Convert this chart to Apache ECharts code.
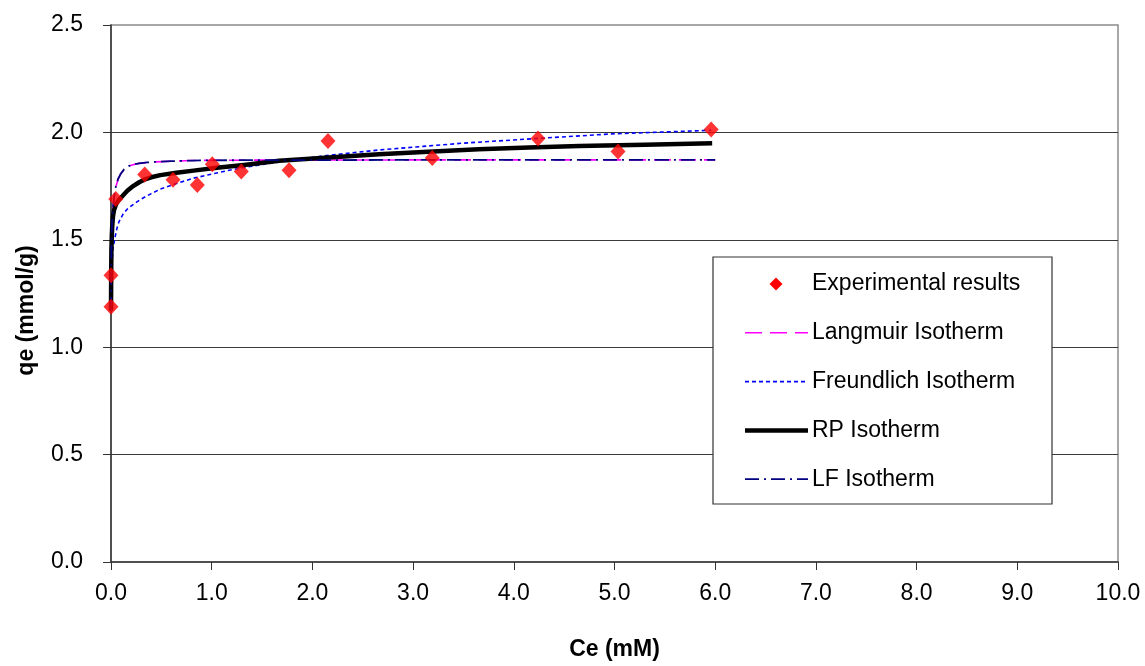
<!DOCTYPE html>
<html>
<head>
<meta charset="utf-8">
<script src="https://cdn.jsdelivr.net/npm/echarts@6/dist/echarts.min.js"></script>
<style>html,body{margin:0;padding:0;background:#fff}#c{width:1145px;height:666px}</style>
</head>
<body>
<div id="c"></div>
<script>
const xTicks = [0,1,2,3,4,5,6,7,8,9,10];
const yTicks = [0,0.5,1.0,1.5,2.0,2.5];
const experimental = [[0,1.188],[0,1.335],[0.047,1.69],[0.335,1.804],[0.616,1.779],[0.857,1.755],[1.006,1.852],[1.294,1.818],[1.768,1.824],[2.155,1.96],[3.19,1.881],[4.24,1.972],[5.035,1.911],[5.96,2.014]];
const langmuir = [[0,1.17],[0.002,1.36],[0.004,1.45],[0.01,1.57],[0.02,1.65],[0.035,1.71],[0.047,1.744],[0.07,1.782],[0.095,1.806],[0.13,1.828],[0.18,1.844],[0.23,1.851],[0.28,1.856],[0.36,1.860],[0.44,1.863],[0.6,1.866],[0.8,1.869],[1.0,1.870],[1.5,1.871],[2.0,1.871],[3.0,1.872],[4.0,1.872],[5.0,1.872],[6.0,1.872]];
const freundlich = [[0.001,1.22],[0.003,1.30],[0.006,1.35],[0.01,1.40],[0.02,1.46],[0.037,1.505],[0.06,1.555],[0.08,1.585],[0.12,1.62],[0.162,1.643],[0.23,1.668],[0.3,1.69],[0.4,1.715],[0.49,1.736],[0.65,1.762],[0.82,1.787],[1.0,1.806],[1.155,1.822],[1.4,1.843],[1.67,1.862],[2.1,1.89],[2.66,1.918],[3.1,1.935],[3.5,1.95],[4.24,1.972],[4.975,1.993],[5.96,2.01]];
const rp = [[0,1.17],[0.002,1.35],[0.004,1.45],[0.008,1.52],[0.012,1.56],[0.02,1.61],[0.03,1.638],[0.05,1.665],[0.07,1.68],[0.096,1.695],[0.13,1.712],[0.162,1.728],[0.22,1.75],[0.28,1.768],[0.33,1.780],[0.4,1.791],[0.49,1.801],[0.65,1.812],[0.82,1.822],[1.05,1.835],[1.32,1.848],[1.67,1.868],[2.2,1.884],[2.66,1.898],[3.15,1.910],[3.65,1.921],[4.15,1.930],[4.65,1.937],[5.3,1.943],[5.97,1.949]];
const lf = [[0,1.17],[0.002,1.37],[0.004,1.46],[0.01,1.575],[0.02,1.655],[0.035,1.712],[0.047,1.746],[0.07,1.783],[0.095,1.806],[0.13,1.828],[0.18,1.844],[0.23,1.851],[0.28,1.856],[0.36,1.860],[0.44,1.863],[0.6,1.866],[0.8,1.869],[1.0,1.870],[1.5,1.871],[2.0,1.871],[3.0,1.872],[4.0,1.872],[5.0,1.872],[6.0,1.872]];
const legendNames = ['Experimental results','Langmuir Isotherm','Freundlich Isotherm','RP Isotherm','LF Isotherm'];

const FONT = 'Arial, "Liberation Sans", sans-serif';
const styles = {
  'Langmuir Isotherm': {color:'#ff00ff', width:1.6, dash:[17,8]},
  'Freundlich Isotherm': {color:'#0000ff', width:1.6, dash:[4,3]},
  'RP Isotherm': {color:'#000000', width:4.5, dash:null},
  'LF Isotherm': {color:'#000080', width:1.8, dash:[14,5,2,5]}
};

// legend built as graphic
const LX = 713, LY = 257, LW = 339, LH = 247;
const rowY0 = 284, rowStep = 48.8;
const legendEls = [{type:'rect', shape:{x:LX, y:LY, width:LW, height:LH}, style:{fill:'#fff', stroke:'#333', lineWidth:1.2}, z:100}];
legendNames.forEach((n,i)=>{
  const cy = rowY0 + i*rowStep;
  if (i === 0) {
    legendEls.push({type:'polygon', shape:{points:[[776,cy-6.5],[782.5,cy],[776,cy+6.5],[769.5,cy]]}, style:{fill:'#ff0000'}, z:101});
  } else {
    const s = styles[n];
    legendEls.push({type:'line', shape:{x1:745, y1:cy, x2:808, y2:cy}, style:{stroke:s.color, lineWidth:s.width, lineDash:s.dash}, z:101});
  }
  legendEls.push({type:'text', x:812, y:cy, style:{text:n, font:'23px ' + FONT, fill:'#000', align:'left', verticalAlign:'middle'}, z:101});
});

function lineSeries(name, data, z){
  const s = styles[name];
  return {name, type:'line', data, symbol:'none', smooth:false,
    lineStyle:{color:s.color, width:s.width, type:s.dash || 'solid', join:'round', cap:'butt'}, itemStyle:{color:s.color}, z};
}

const chart = echarts.init(document.getElementById('c'), null, {renderer:'canvas'});
const option = {
  animation: false,
  backgroundColor: '#fff',
  grid: {left:111, right:27, top:25, bottom:101, show:true, borderColor:'#8c8c8c', borderWidth:1.5, backgroundColor:'transparent'},
  xAxis: {
    type:'value', min:xTicks[0], max:xTicks[xTicks.length-1], interval:1,
    name:'Ce (mM)', nameLocation:'middle', nameGap:76,
    nameTextStyle:{fontFamily:FONT, fontSize:23, fontWeight:'bold', color:'#000'},
    axisLine:{show:true, onZero:false, lineStyle:{color:'#333', width:1.5}},
    axisTick:{show:true, inside:false, length:8, lineStyle:{color:'#333'}},
    axisLabel:{margin:20, fontFamily:FONT, fontSize:23, color:'#000', formatter:v=>v.toFixed(1)},
    splitLine:{show:false}
  },
  yAxis: {
    type:'value', min:yTicks[0], max:yTicks[yTicks.length-1], interval:0.5,
    name:'qe (mmol/g)', nameLocation:'middle', nameGap:73,
    nameTextStyle:{fontFamily:FONT, fontSize:23, fontWeight:'bold', color:'#000', padding:[0,34,0,0]},
    axisLine:{show:true, onZero:false, lineStyle:{color:'#333', width:1.5}},
    axisTick:{show:true, inside:false, length:8, lineStyle:{color:'#333'}},
    axisLabel:{margin:28, fontFamily:FONT, fontSize:23, color:'#000', formatter:v=>v.toFixed(1)},
    splitLine:{show:true, showMinLine:false, showMaxLine:false, lineStyle:{color:'#3a3a3a', width:1.2}}
  },
  graphic: legendEls,
  series: [
    lineSeries('Langmuir Isotherm', langmuir, 2),
    lineSeries('Freundlich Isotherm', freundlich, 3),
    lineSeries('RP Isotherm', rp, 4),
    lineSeries('LF Isotherm', lf, 5),
    {name:'Experimental results', type:'scatter', data:experimental, symbol:'diamond', symbolSize:[15,16],
     itemStyle:{color:'#ff0000'}, z:10}
  ]
};
chart.setOption(option);
</script>
</body>
</html>
